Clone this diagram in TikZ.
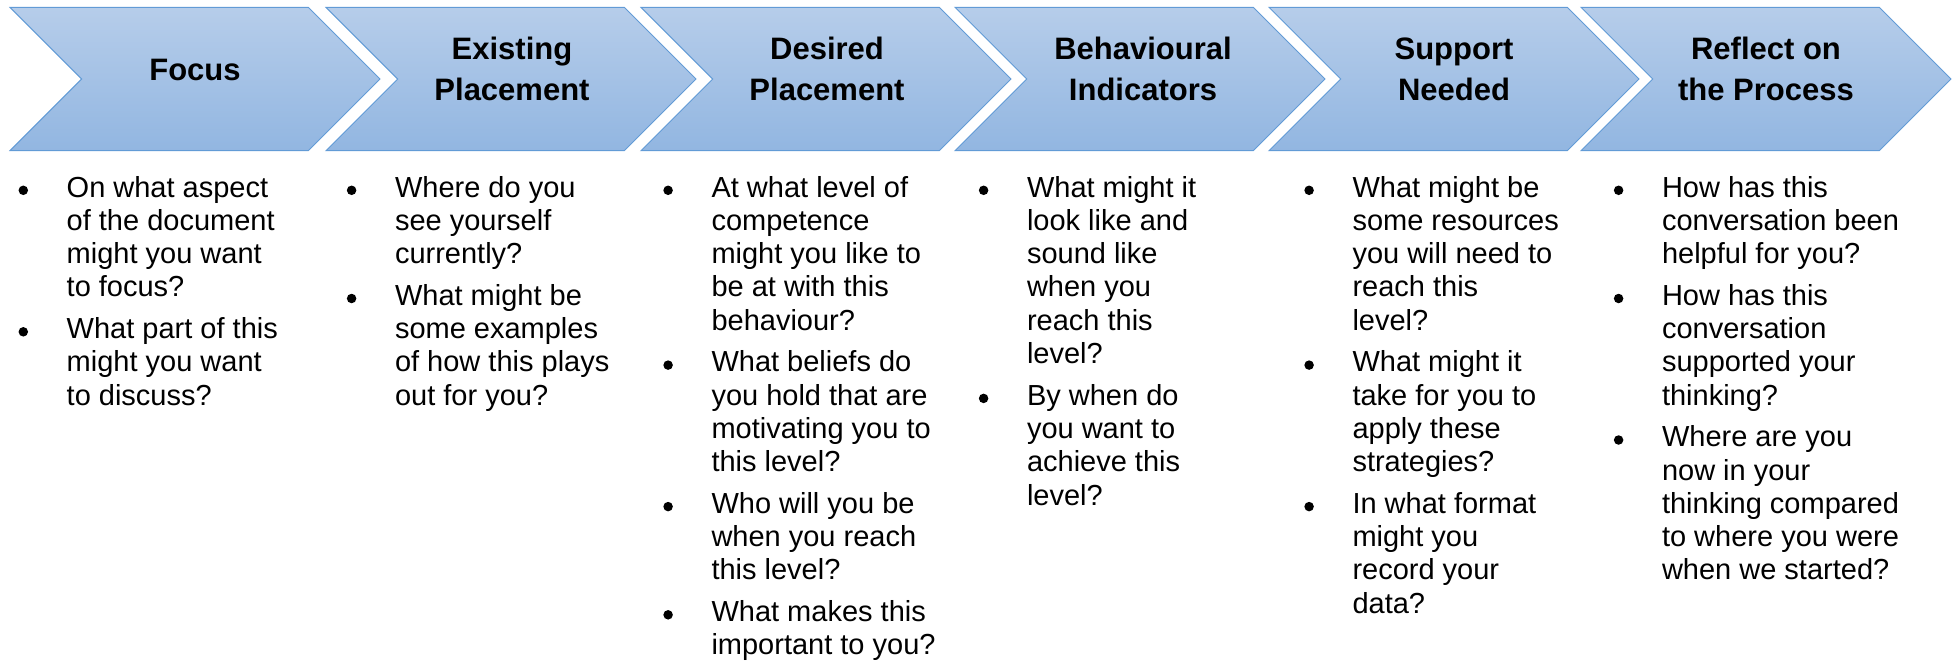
\documentclass[tikz,border=0pt]{standalone}
\usepackage{fontspec}
\setmainfont{Liberation Sans}

\definecolor{chevtop}{RGB}{182,205,234}
\definecolor{chevbot}{RGB}{146,182,225}
\definecolor{chevline}{RGB}{98,155,214}

% stacked lines whose reference point is the baseline of the first line
\newcommand\bodylines[1]{\vtop{\baselineskip=33.3pt\lineskiplimit=-100pt\halign{##\hfil\cr#1\crcr}}}
\newcommand\headlines[1]{\vtop{\baselineskip=40.7pt\lineskiplimit=-100pt\halign{\hfil##\hfil\cr#1\crcr}}}

\tikzset{
  chevron/.style={draw=chevline, line width=1pt, top color=chevtop, bottom color=chevbot, line join=miter},
  heading/.style={inner sep=0pt, outer sep=0pt, anchor=base, font=\fontsize{31}{40.7}\selectfont\bfseries},
  itemtext/.style={inner sep=0pt, outer sep=0pt, anchor=base west, font=\fontsize{29}{33.3}\selectfont},
  bulletdot/.style={circle, fill=black, inner sep=0pt, outer sep=0pt, minimum size=9.5pt},
}

\begin{document}
\begin{tikzpicture}[x=1pt,y=-1pt]
\useasboundingbox (0,0) rectangle (1957,665);

% process chevrons
\foreach \L in {10,326,641,955,1269,1581}{
  \path[chevron] (\L,7.3) -- (\L+298.3,7.3) -- (\L+370,79) -- (\L+298.3,150.7)
    -- (\L,150.7) -- (\L+71.7,79) -- cycle;
}

% step titles
\node[heading] (h1) at (195,80)   {Focus};
\node[heading] (h2) at (512,59.5) {\headlines{Existing\cr Placement}};
\node[heading] (h3) at (827,59.5) {\headlines{Desired\cr Placement}};
\node[heading] (h4) at (1143,59.5) {\headlines{Behavioural\cr Indicators}};
\node[heading] (h5) at (1454,59.5) {\headlines{Support\cr Needed}};
\node[heading] (h6) at (1766,59.5) {\headlines{Reflect on\cr the Process}};

% column 1
\node[itemtext] (t1a) at (66.7,197) {\bodylines{On what aspect\cr of the document\cr might you want\cr to focus?}};
\node[itemtext] (t1b) at (66.7,{197+4*33.3+8.3}) {\bodylines{What part of this\cr might you want\cr to discuss?}};

% column 2
\node[itemtext] (t2a) at (395,197) {\bodylines{Where do you\cr see yourself\cr currently?}};
\node[itemtext] (t2b) at (395,{197+3*33.3+8.3}) {\bodylines{What might be\cr some examples\cr of how this plays\cr out for you?}};

% column 3
\node[itemtext] (t3a) at (711.5,197) {\bodylines{At what level of\cr competence\cr might you like to\cr be at with this\cr behaviour?}};
\node[itemtext] (t3b) at (711.5,{197+5*33.3+8.3}) {\bodylines{What beliefs do\cr you hold that are\cr motivating you to\cr this level?}};
\node[itemtext] (t3c) at (711.5,{197+9*33.3+2*8.3}) {\bodylines{Who will you be\cr when you reach\cr this level?}};
\node[itemtext] (t3d) at (711.5,{197+12*33.3+3*8.3}) {\bodylines{What makes this\cr important to you?}};

% column 4
\node[itemtext] (t4a) at (1027,197) {\bodylines{What might it\cr look like and\cr sound like\cr when you\cr reach this\cr level?}};
\node[itemtext] (t4b) at (1027,{197+6*33.3+8.3}) {\bodylines{By when do\cr you want to\cr achieve this\cr level?}};

% column 5
\node[itemtext] (t5a) at (1352.5,197) {\bodylines{What might be\cr some resources\cr you will need to\cr reach this\cr level?}};
\node[itemtext] (t5b) at (1352.5,{197+5*33.3+8.3}) {\bodylines{What might it\cr take for you to\cr apply these\cr strategies?}};
\node[itemtext] (t5c) at (1352.5,{197+9*33.3+2*8.3}) {\bodylines{In what format\cr might you\cr record your\cr data?}};

% column 6
\node[itemtext] (t6a) at (1662,197) {\bodylines{How has this\cr conversation been\cr helpful for you?}};
\node[itemtext] (t6b) at (1662,{197+3*33.3+8.3}) {\bodylines{How has this\cr conversation\cr supported your\cr thinking?}};
\node[itemtext] (t6c) at (1662,{197+7*33.3+2*8.3}) {\bodylines{Where are you\cr now in your\cr thinking compared\cr to where you were\cr when we started?}};

% round bullet in front of every item
\foreach \t in {t1a,t1b,t2a,t2b,t3a,t3b,t3c,t3d,t4a,t4b,t5a,t5b,t5c,t6a,t6b,t6c}{
  \node[bulletdot] (b-\t) at ([xshift=-43.4pt,yshift=6.7pt]\t.base west) {};
}
\end{tikzpicture}
\end{document}
